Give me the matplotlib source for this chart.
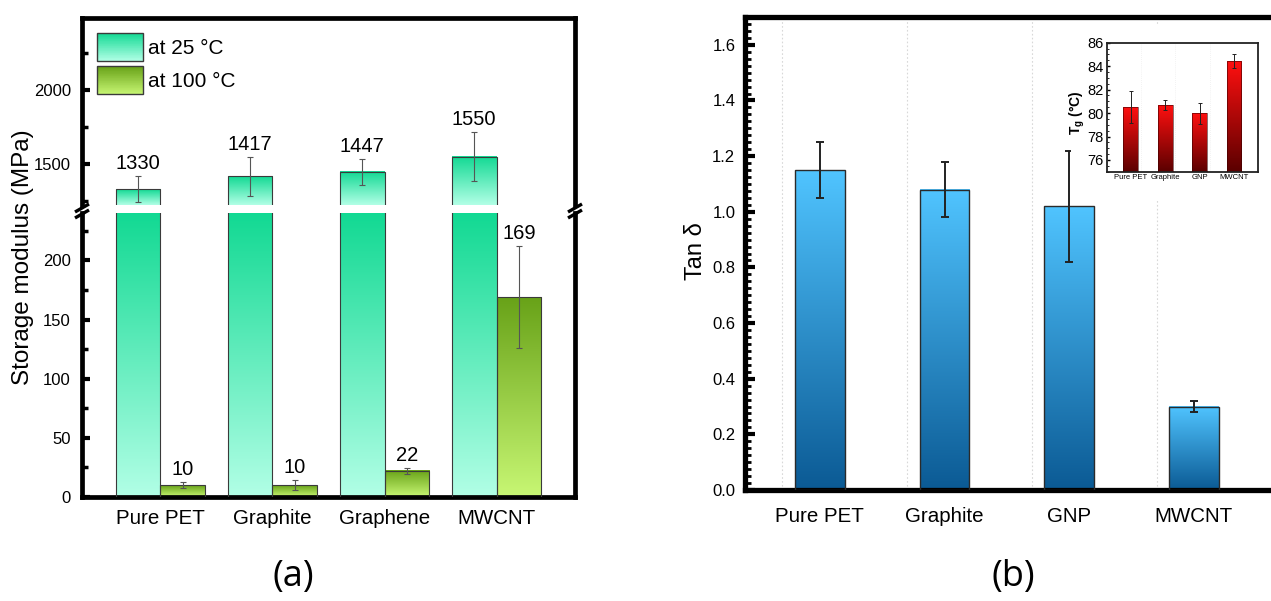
import numpy as np
import matplotlib
matplotlib.use('Agg')
import matplotlib.pyplot as plt
from matplotlib.patches import Rectangle
from matplotlib.colors import LinearSegmentedColormap, to_rgb
from matplotlib.legend_handler import HandlerBase
from matplotlib.lines import Line2D
from matplotlib.ticker import MultipleLocator, FormatStrFormatter

# ---------------- data ----------------
materials_a = ['Pure PET', 'Graphite', 'Graphene', 'MWCNT']
modulus_25 = [1330, 1417, 1447, 1550]
modulus_25_err = [90, 130, 88, 168]
modulus_100 = [10, 10, 22, 169]
modulus_100_err = [2.5, 4.2, 2.2, 43]
legend_labels = ['at 25 °C', 'at 100 °C']

materials_b = ['Pure PET', 'Graphite', 'GNP', 'MWCNT']
tan_delta = [1.15, 1.08, 1.02, 0.30]
tan_delta_err = [0.10, 0.10, 0.20, 0.02]

tg_values = [80.5, 80.7, 80.0, 84.4]
tg_err = [1.35, 0.4, 0.9, 0.6]

# ---------------- style ----------------
plt.rcParams['font.family'] = ['Liberation Sans', 'DejaVu Sans']
plt.rcParams['mathtext.fontset'] = 'custom'
plt.rcParams['mathtext.rm'] = 'Liberation Sans'
plt.rcParams['mathtext.bf'] = 'Liberation Sans:bold'

W, H = 1271, 601
fig = plt.figure(figsize=(W / 100, H / 100), dpi=100)


def rect(x0, y0, x1, y1):
    return [x0 / W, 1 - y1 / H, (x1 - x0) / W, (y1 - y0) / H]


def fxy(x, y):
    return (x / W, 1 - y / H)


def gradient_bars(ax, bars, c_top, c_bot, zorder=2):
    cmap = LinearSegmentedColormap.from_list('g', [c_bot, c_top])
    grad = np.linspace(0, 1, 256).reshape(-1, 1)
    ylo, yhi = ax.get_ylim()
    xl = ax.get_xlim()
    for b in bars:
        x0, w = b.get_x(), b.get_width()
        y0 = max(b.get_y(), ylo)
        y1 = min(b.get_y() + b.get_height(), yhi)
        if y1 <= y0:
            continue
        ax.imshow(grad, extent=[x0, x0 + w, y0, y1], origin='lower', cmap=cmap,
                  aspect='auto', zorder=zorder, interpolation='bilinear')
    ax.set_xlim(xl)
    ax.set_ylim(ylo, yhi)


class GradientHandler(HandlerBase):
    def __init__(self, c_top, c_bot, edge):
        super().__init__()
        self.c_top, self.c_bot, self.edge = c_top, c_bot, edge

    def create_artists(self, legend, orig_handle, xdescent, ydescent,
                       width, height, fontsize, trans):
        ct = np.array(to_rgb(self.c_top))
        cb = np.array(to_rgb(self.c_bot))
        n = 40
        arts = []
        for i in range(n):
            f = (i + 0.5) / n
            arts.append(Rectangle((-xdescent, -ydescent + height * i / n), width,
                                  height / n * 1.1, fc=cb + (ct - cb) * f, ec='none',
                                  lw=0, transform=trans))
        arts.append(Rectangle((-xdescent, -ydescent), width, height, fc='none',
                              ec=self.edge, lw=1.0, transform=trans))
        return arts


C25_TOP, C25_BOT = '#12D993', '#B2FFE6'
C100_TOP, C100_BOT = '#68A218', '#C8F774'
EDGE_A = '#3a3a3a'

# ---------------- panel (a): broken axis ----------------
ax_top = fig.add_axes(rect(82, 18, 575, 205))
ax_bot = fig.add_axes(rect(82, 213, 575, 497))

xa = np.arange(len(materials_a))
bw = 0.4
for ax in (ax_top, ax_bot):
    ax.set_xlim(-0.7, 3.7)
ax_top.set_ylim(1223, 2486)
ax_bot.set_ylim(0, 240)

bars_t = ax_top.bar(xa - bw / 2, modulus_25, bw, fc='none', ec=EDGE_A, lw=0.8, zorder=3)
gradient_bars(ax_top, bars_t, C25_TOP, C25_BOT)
ax_top.errorbar(xa - bw / 2, modulus_25, yerr=modulus_25_err, fmt='none',
                ecolor='#555555', elinewidth=0.8, capsize=2.5, capthick=0.8, zorder=4)
for xi, v, e in zip(xa - bw / 2, modulus_25, modulus_25_err):
    ax_top.annotate(str(v), xy=(xi, v + e), xytext=(0, 5), textcoords='offset points',
                    ha='center', va='baseline', fontsize=14.5)

bars_b25 = ax_bot.bar(xa - bw / 2, modulus_25, bw, fc='none', ec=EDGE_A, lw=0.8, zorder=3)
bars_b100 = ax_bot.bar(xa + bw / 2, modulus_100, bw, fc='none', ec=EDGE_A, lw=0.8, zorder=3)
gradient_bars(ax_bot, bars_b25, C25_TOP, C25_BOT)
gradient_bars(ax_bot, bars_b100, C100_TOP, C100_BOT)
ax_bot.errorbar(xa + bw / 2, modulus_100, yerr=modulus_100_err, fmt='none',
                ecolor='#555555', elinewidth=0.8, capsize=2.5, capthick=0.8, zorder=4)
for xi, v, e in zip(xa + bw / 2, modulus_100, modulus_100_err):
    ax_bot.annotate(str(v), xy=(xi, v + e), xytext=(0, 5), textcoords='offset points',
                    ha='center', va='baseline', fontsize=14.5)

SP_A = 3.4
ax_top.spines['bottom'].set_visible(False)
ax_bot.spines['top'].set_visible(False)
for ax in (ax_top, ax_bot):
    for s in ax.spines.values():
        s.set_linewidth(SP_A)
        s.set_color('black')
    ax.tick_params(axis='y', which='major', direction='in', length=6, width=3,
                   labelsize=12, pad=8, right=False)
    ax.tick_params(axis='y', which='minor', direction='in', length=4, width=2.5, right=False)

ax_top.set_yticks([1500, 2000])
ax_top.yaxis.set_minor_locator(MultipleLocator(250))
ax_top.tick_params(axis='x', which='both', bottom=False, labelbottom=False)

ax_bot.set_yticks([0, 50, 100, 150, 200])
ax_bot.yaxis.set_minor_locator(MultipleLocator(25))
ax_bot.set_xticks(xa)
ax_bot.set_xticklabels(materials_a, fontsize=14.8)
ax_bot.tick_params(axis='x', which='both', length=0, pad=8.5)

ax_bot.set_ylabel('Storage modulus (MPa)', fontsize=17.5)
ax_bot.yaxis.set_label_coords(34 / W, 1 - 257 / H, transform=fig.transFigure)

# legend
h25 = Rectangle((0, 0), 1, 1, fc=C25_TOP)
h100 = Rectangle((0, 0), 1, 1, fc=C100_TOP)
fs_leg = 15
em = fs_leg * 100 / 72
hh = (28 / em - 0.245) / 0.65
ax_top.legend([h25, h100], legend_labels, loc='upper left',
              bbox_to_anchor=(15 / 493, 1 - 15 / 187), frameon=False, fontsize=fs_leg,
              handlelength=46 / em, handleheight=hh, labelspacing=5.5 / em,
              handletextpad=5 / em, borderpad=0, borderaxespad=0,
              handler_map={h25: GradientHandler(C25_TOP, C25_BOT, EDGE_A),
                           h100: GradientHandler(C100_TOP, C100_BOT, EDGE_A)})

# break marks
for xc in (82, 575):
    for dy in (0, 6):
        fig.add_artist(Line2D([fxy(xc - 7, 212 + dy)[0], fxy(xc + 7, 204 + dy)[0]],
                              [fxy(xc - 7, 212 + dy)[1], fxy(xc + 7, 204 + dy)[1]],
                              transform=fig.transFigure, color='black', lw=2.4,
                              solid_capstyle='butt'))

# ---------------- panel (b) ----------------
spacing_b = 124.7
ax_b = fig.add_axes(rect(745, 17, 745 + 4.4 * spacing_b, 490))
xb = np.arange(len(materials_b))
ax_b.set_xlim(-0.6, 3.8)
ax_b.set_ylim(0, 1.70)
for gx in np.arange(len(materials_b) + 1) - 0.3:
    ax_b.axvline(gx, color='#d8d8d8', lw=0.8, ls=(0, (1.5, 2)), zorder=1)
bars_tan = ax_b.bar(xb, tan_delta, 0.4, fc='none', ec='#2a2a2a', lw=1.0, zorder=3)
gradient_bars(ax_b, bars_tan, '#50C4FF', '#0B5A94')
ax_b.errorbar(xb, tan_delta, yerr=tan_delta_err, fmt='none', ecolor='#222222',
              elinewidth=1.4, capsize=3, capthick=1.4, zorder=4)
ax_b.spines['right'].set_visible(False)
for s in ('left', 'top', 'bottom'):
    ax_b.spines[s].set_linewidth(3.8)
    ax_b.spines[s].set_color('black')
ax_b.set_yticks(np.arange(0, 1.61, 0.2))
ax_b.yaxis.set_major_formatter(FormatStrFormatter('%.1f'))
ax_b.yaxis.set_minor_locator(MultipleLocator(0.025))
ax_b.tick_params(axis='y', which='major', direction='in', length=7, width=3,
                 labelsize=12, pad=7)
ax_b.tick_params(axis='y', which='minor', direction='in', length=4, width=2)
ax_b.set_xticks(xb)
ax_b.set_xticklabels(materials_b, fontsize=14.8)
ax_b.tick_params(axis='x', which='both', length=0, pad=12)
ax_b.set_ylabel('Tan δ', fontsize=17)
ax_b.yaxis.set_label_coords(707 / W, 1 - 251 / H, transform=fig.transFigure)

# white backing for the inset
fig.add_artist(Rectangle(fxy(1071, 200), (1271 - 1071) / W, (200 - 24) / H,
                         transform=fig.transFigure, fc='white', ec='none', zorder=1))

# inset
ax_in = fig.add_axes(rect(1106.7, 42.7, 1258, 171.7), zorder=3)
ax_in.set_xlim(-0.7, 3.7)
ax_in.set_ylim(75, 86)
for gx in np.arange(len(materials_b) - 1) + 0.3:
    ax_in.axvline(gx, color='#eeeeee', lw=0.6, ls=(0, (1, 1.5)), zorder=1)
bars_tg = ax_in.bar(xb, tg_values, 0.43, fc='none', ec='#3a0000', lw=0.4, zorder=3)
gradient_bars(ax_in, bars_tg, '#FF1010', '#5A0000')
ax_in.errorbar(xb, tg_values, yerr=tg_err, fmt='none', ecolor='#222222',
               elinewidth=0.7, capsize=1.3, capthick=0.7, zorder=4)
for s in ax_in.spines.values():
    s.set_linewidth(1.3)
    s.set_color('#222222')
ax_in.set_yticks(np.arange(76, 87, 2))
ax_in.yaxis.set_minor_locator(MultipleLocator(0.5))
ax_in.tick_params(axis='y', which='major', direction='in', length=2.5, width=1,
                  labelsize=10.5, pad=2)
ax_in.tick_params(axis='y', which='minor', direction='in', length=1.5, width=0.6)
ax_in.set_xticks(xb)
ax_in.set_xticklabels(materials_b, fontsize=5.5)
ax_in.tick_params(axis='x', which='both', length=0, pad=2)
ax_in.set_ylabel(r'$\mathbf{T_g}$ (°C)', fontsize=10, fontweight='bold')
ax_in.yaxis.set_label_coords(1087 / W, 1 - 113 / H, transform=fig.transFigure)

# panel captions
fig.text(*fxy(293, 577), '(a)', fontsize=26, family=['Open Sans', 'DejaVu Sans'],
         ha='center', va='center')
fig.text(*fxy(1013, 577), '(b)', fontsize=26, family=['Open Sans', 'DejaVu Sans'],
         ha='center', va='center')

fig.savefig('out.png', dpi=100)
